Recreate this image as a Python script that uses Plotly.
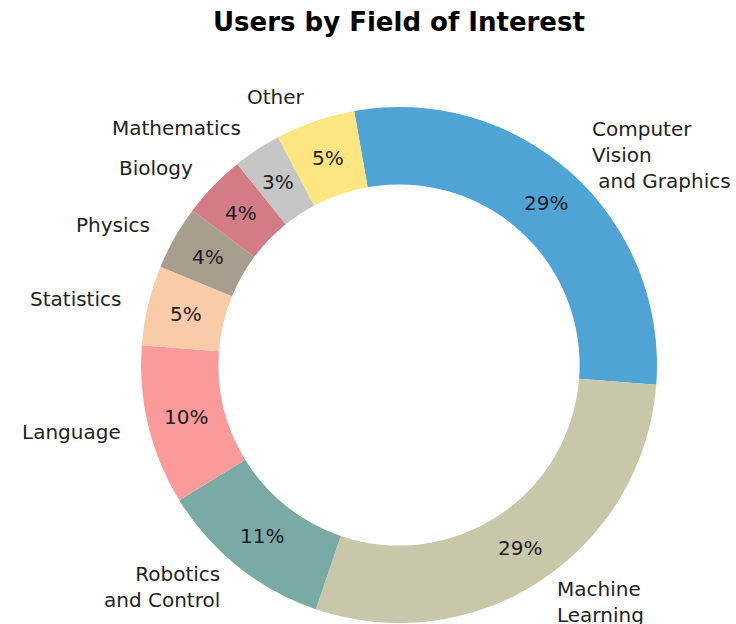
import math
import plotly.graph_objects as go

# Share of users by field of interest (percent)
fields = ["Computer\nVision\n and Graphics", "Machine\nLearning", "Robotics\nand Control",
          "Language", "Statistics", "Physics", "Biology", "Mathematics", "Other"]
shares = [29, 29, 11, 10, 5, 4, 4, 3, 5]
colors = ["#4fa3d5", "#c9c7a9", "#7aaaa5", "#fa9a9b", "#f9cba8",
          "#a89e8e", "#d47c86", "#c6c6c6", "#fde681"]

START_DEG = -10      # first slice starts 10 degrees left of 12 o'clock, going clockwise
HOLE = 0.7
LABEL_R = 1.1
PCT_R = (1 + HOLE) / 2
FONT = "DejaVu Sans"

# figure geometry (pixels): donut centre and outer radius
W, H = 736, 624
CX, CY, RAD = 399, 365, 258

fig = go.Figure()
fig.add_trace(go.Pie(
    labels=[f.replace("\n", " ") for f in fields],
    values=shares,
    hole=HOLE,
    sort=False,
    direction="clockwise",
    rotation=START_DEG,
    marker=dict(colors=colors, line=dict(width=0)),
    textinfo="none",
    hoverinfo="label+percent",
    showlegend=False,
    domain=dict(x=[(CX - RAD) / W, (CX + RAD) / W],
                y=[1 - (CY + RAD) / H, 1 - (CY - RAD) / H]),
))

total = sum(shares)
annotations = []
cum = 0.0
for name, v in zip(fields, shares):
    mid = math.radians(START_DEG + 360.0 * (cum + v / 2) / total)
    cum += v
    sx, cy = math.sin(mid), math.cos(mid)
    # percentage inside the ring
    annotations.append(dict(
        x=PCT_R * sx, y=PCT_R * cy, xref="x", yref="y",
        text=f"{round(100 * v / total)}%", showarrow=False,
        font=dict(family=FONT, size=20, color="#1c1c24"),
        xanchor="center", yanchor="middle",
    ))
    # category name outside the ring
    side = "left" if sx >= 0 else "right"
    annotations.append(dict(
        x=LABEL_R * sx, y=LABEL_R * cy, xref="x", yref="y",
        text=name.replace("\n", "<br>").replace("<br> ", "<br>&nbsp;"),
        showarrow=False, align=side,
        font=dict(family=FONT, size=20, color="#222222"),
        xanchor=side, yanchor="middle",
    ))

annotations.append(dict(
    x=399 / W, y=1 - 22 / H, xref="paper", yref="paper",
    text="<b>Users by Field of Interest</b>",
    showarrow=False, font=dict(family=FONT, size=26, color="#000000"),
    xanchor="center", yanchor="middle",
))

fig.update_layout(
    width=W, height=H,
    margin=dict(l=0, r=0, t=0, b=0, pad=0),
    paper_bgcolor="white", plot_bgcolor="rgba(0,0,0,0)",
    # axes span the whole figure in units of the outer radius
    xaxis=dict(range=[-CX / RAD, (W - CX) / RAD], visible=False, fixedrange=True),
    yaxis=dict(range=[(CY - H) / RAD, CY / RAD], visible=False, fixedrange=True),
    annotations=annotations,
)

fig.write_html("out.html")
